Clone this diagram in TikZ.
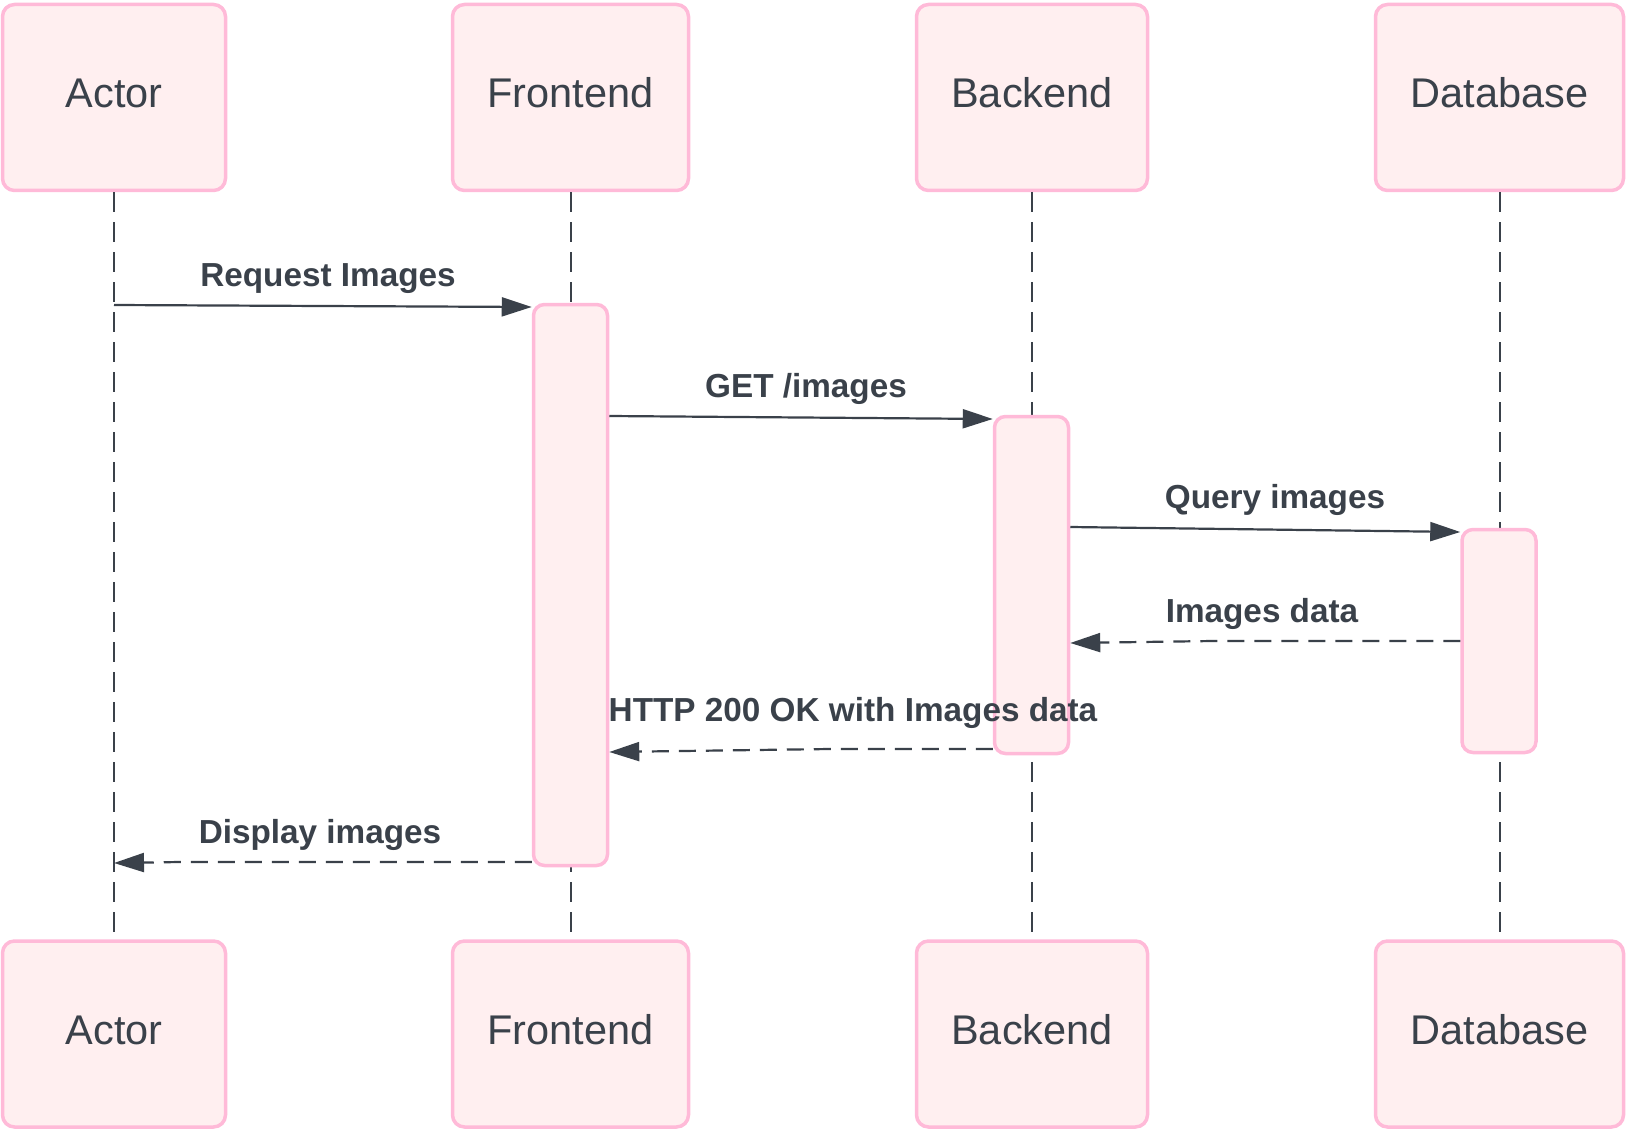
\documentclass[tikz,border=0pt]{standalone}
\usepackage{fontspec}
\setmainfont{Liberation Sans}
\usetikzlibrary{arrows.meta}
\definecolor{ink}{HTML}{3A414A}
\definecolor{pinkline}{HTML}{FFBAD8}
\definecolor{pinkfill}{HTML}{FFEFF0}
\begin{document}
\begin{tikzpicture}[x=1pt,y=-1pt,
  partbox/.style={draw=pinkline, fill=pinkfill, line width=3.5pt, rounded corners=12pt,
    inner sep=0pt, text=ink, font=\fontsize{41.5}{50}\selectfont,
    text height=28pt, text depth=8pt, minimum height=186pt},
  barbox/.style={draw=pinkline, fill=pinkfill, line width=3.5pt, rounded corners=11pt,
    inner sep=0pt, minimum width=74pt},
  lifeline/.style={draw=ink, line width=2pt, dash pattern=on 20pt off 10pt},
  msg/.style={draw=ink, line width=2.2pt, -{Triangle[length=30pt,width=19pt]}},
  reply/.style={msg, dash pattern=on 17pt off 10pt},
  msglabel/.style={text=ink, font=\fontsize{33.3}{40}\selectfont\bfseries, anchor=base, inner sep=0pt}
]
\useasboundingbox (0,0) rectangle (1626,1129);
% participant boxes
\node[partbox, minimum width=223pt] (a1) at (114,97.5) {Actor};
\node[partbox, minimum width=236pt] (f1) at (570.5,97.5) {Frontend};
\node[partbox, minimum width=231pt] (b1) at (1032,97.5) {Backend};
\node[partbox, minimum width=248pt] (d1) at (1499.5,97.5) {Database};
\node[partbox, minimum width=223pt] (a2) at (114,1034) {Actor};
\node[partbox, minimum width=236pt] (f2) at (570.5,1034) {Frontend};
\node[partbox, minimum width=231pt] (b2) at (1032,1034) {Backend};
\node[partbox, minimum width=248pt] (d2) at (1499.5,1034) {Database};
% lifelines
\draw[lifeline] (a1.south) -- (a2.north);
\draw[lifeline] (f1.south) -- (f2.north);
\draw[lifeline] (b1.south) -- (b2.north);
\draw[lifeline] (d1.south) -- (d2.north);
% activation bars
\node[barbox, minimum height=561pt] (fbar) at (570.5,585) {};
\node[barbox, minimum height=337pt] (bbar) at (1031.5,585) {};
\node[barbox, minimum height=223pt] (dbar) at (1499,641) {};
% messages
\coordinate (m1s) at (114,305);
\draw[msg] (m1s) -- (fbar.west |- 0,307);
\node[msglabel] (l1) at (328,286) {Request Images};
\draw[msg] (fbar.east |- 0,416) -- (bbar.west |- 0,419);
\node[msglabel] (l2) at (806,397) {GET /images};
\draw[msg] (bbar.east |- 0,527) -- (dbar.west |- 0,532);
\node[msglabel] (l3) at (1275,508) {Query images};
\coordinate (k4) at (1213,641);
\draw[reply] (dbar.west |- 0,641) -- (k4) -- (bbar.east |- 0,643);
\node[msglabel] (l4) at (1262,622) {Images data};
\coordinate (k5) at (830,749);
\draw[reply] (bbar.west |- 0,749) -- (k5) -- (fbar.east |- 0,752);
\node[msglabel] (l5) at (853,721) {HTTP 200 OK with Images data};
\coordinate (k6) at (180,862);
\coordinate (m6e) at (114,863);
\draw[reply] (fbar.west |- 0,862) -- (k6) -- (m6e);
\node[msglabel] (l6) at (320,843) {Display images};
\end{tikzpicture}
\end{document}
